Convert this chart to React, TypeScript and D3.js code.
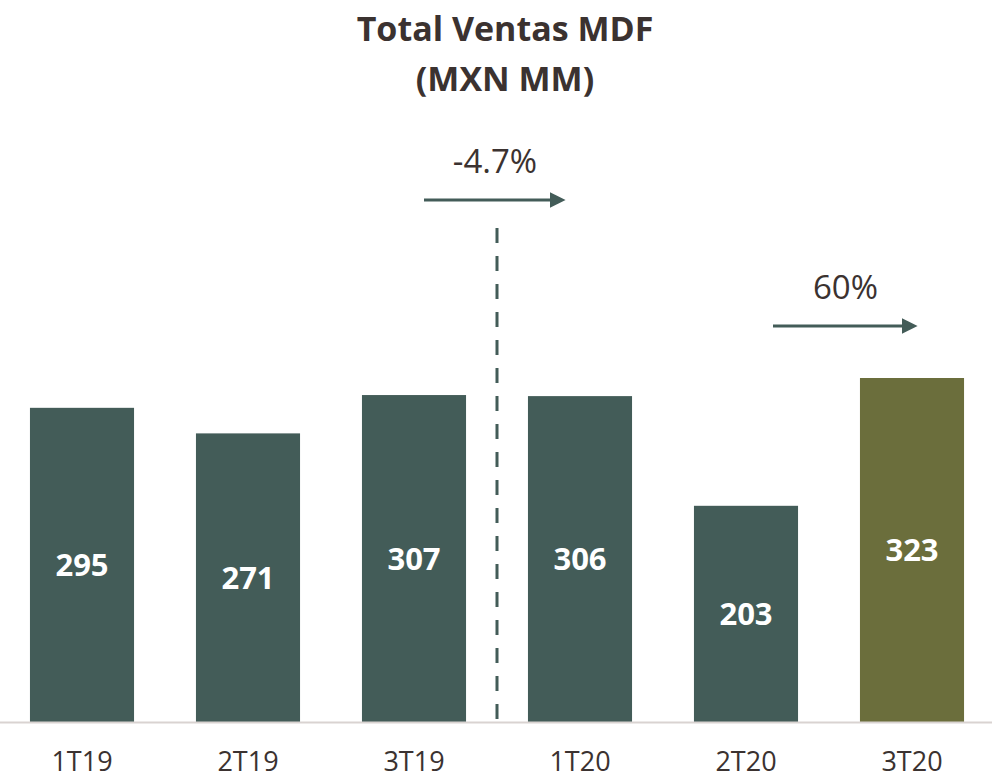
import React from 'react';
import * as d3 from 'd3';

const categories = ['1T19', '2T19', '3T19', '1T20', '2T20', '3T20'];
const values = [295, 271, 307, 306, 203, 323];
const highlight = ['3T20'];
const growthLabels = ['-4.7%', '60%'];

const width = 992;
const height = 779;
const margin = { top: 0, right: -3, bottom: 57, left: -1 };

const barColor = '#435c58';
const highlightColor = '#6b6e3c';
const textColor = '#3b3230';
const font = '"Open Sans", sans-serif';

export default function App() {
  const x = d3
    .scaleBand()
    .domain(categories)
    .range([margin.left, width - margin.right])
    .paddingInner(0.373)
    .paddingOuter(0.1865);

  const y = d3
    .scaleLinear()
    .domain([0, 400])
    .range([height - margin.bottom, height - margin.bottom - 426]);

  const base = y(0);
  const bw = x.bandwidth();
  const center = (c: string) => x(c)! + bw / 2;

  // dashed divider between 3T19 and 1T20
  const divX = (x('3T19')! + bw + x('1T20')!) / 2;

  // arrows: [x1, x2, y]
  const arrows = [
    [divX - 73, divX + 53, 200],
    [center('2T20') + 27, center('3T20') - 10, 326],
  ];

  return (
    <svg width={width} height={height} style={{ position: 'absolute', left: 0, top: 0 }}>
      <defs>
        <marker id="arrow" viewBox="0 0 10 10" refX="0" refY="5" markerWidth="5.2" markerHeight="5.2" orient="auto">
          <path d="M0,0 L10,5 L0,10 z" fill={barColor} />
        </marker>
      </defs>
      <text x={505} y={41} textAnchor="middle" fontFamily={font} fontWeight="bold" fontSize={34} fill={textColor}>
        Total Ventas MDF
      </text>
      <text x={505} y={91} textAnchor="middle" fontFamily={font} fontWeight="bold" fontSize={34} fill={textColor}>
        (MXN MM)
      </text>

      {categories.map((c, i) => {
        const v = values[i];
        const top = y(v);
        return (
          <g key={c}>
            <rect
              x={x(c)}
              y={top}
              width={bw}
              height={base - top}
              fill={highlight.includes(c) ? highlightColor : barColor}
            />
            <text
              x={center(c)}
              y={(top + base) / 2}
              dy="0.36em"
              textAnchor="middle"
              fontFamily={font}
              fontWeight="bold"
              fontSize={31}
              fill="#ffffff"
            >
              {v}
            </text>
            <text x={center(c)} y={771} textAnchor="middle" fontFamily={font} fontSize={27} fill={textColor}>
              {c}
            </text>
          </g>
        );
      })}

      <line x1={0} x2={width} y1={base + 0.5} y2={base + 0.5} stroke="#d9d3d1" strokeWidth={2} />

      <line
        x1={divX}
        x2={divX}
        y1={228}
        y2={base - 2}
        stroke={barColor}
        strokeWidth={3}
        strokeDasharray="15,13"
      />

      {arrows.map(([x1, x2, ay], i) => (
        <g key={growthLabels[i]}>
          <line x1={x1} x2={x2} y1={ay} y2={ay} stroke={barColor} strokeWidth={3} markerEnd="url(#arrow)" />
          <text
            x={(x1 + x2 + 16) / 2}
            y={ay - 27}
            textAnchor="middle"
            fontFamily={font}
            fontSize={33}
            fill={textColor}
          >
            {growthLabels[i]}
          </text>
        </g>
      ))}
    </svg>
  );
}
